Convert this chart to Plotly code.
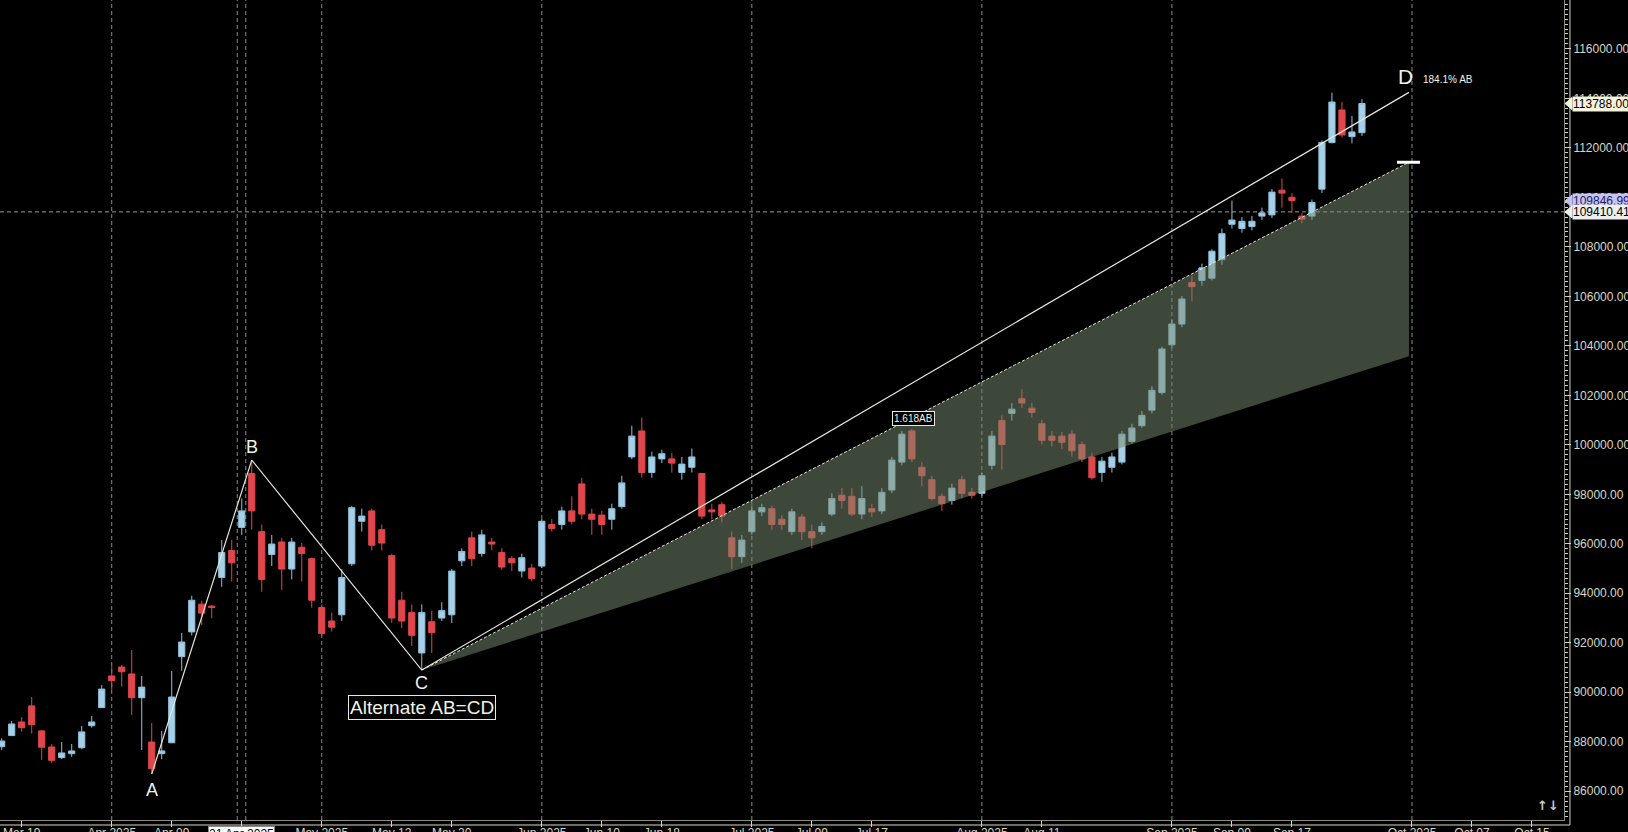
import plotly.graph_objects as go

# ---------------- data ----------------
opens = [87800, 88250, 88800, 89450, 88440, 87790, 87360, 87520, 87760, 88650,
         89380, 90660, 91020, 90740, 89780, 87990, 87520, 87960, 91440, 92440,
         93560, 93480, 94640, 95730, 96660, 98840, 96490, 95570, 96070, 94980,
         95860, 95400, 93430, 92880, 93130, 95190, 96910, 97330, 96570, 95520,
         93720, 93220, 91590, 92850, 93000, 93130, 95310, 96240, 95610, 96070,
         95650, 95400, 94900, 95020, 95100, 96780, 96780, 97330, 98420, 97200,
         97160, 96990, 97500, 99510, 100560, 98880, 99430, 99430, 98880, 99090,
         98840, 97370, 97580, 96240, 95480, 96490, 97290, 97420, 96990, 96490,
         97080, 96490, 96490, 97200, 97960, 97920, 97200, 97420, 97330, 98170,
         99300, 100560, 99090, 98590, 97920, 97750, 98590, 98080, 98040, 99170,
         100980, 101270, 101860, 101480, 100850, 100350, 100350, 100430, 100010, 99510,
         98880, 99090, 99300, 100140, 100770, 101400, 102110, 104040, 104880, 106560,
         106640, 106730, 107480, 108910, 108740, 108820, 109240, 109290, 110290, 110000,
         109240, 109240, 110330, 112210, 113530, 112450, 112610]
highs = [88140, 88840, 89000, 89810, 88480, 87910, 87990, 87910, 88640, 89040,
         90290, 91100, 91100, 91710, 90660, 88760, 88440, 90860, 92400, 93900,
         93700, 93520, 96150, 96150, 97830, 99380, 96780, 96360, 96240, 96240,
         96030, 95440, 93550, 93220, 94980, 97540, 97420, 97420, 96780, 95600,
         94060, 93550, 93550, 93300, 93640, 94980, 95820, 96490, 96570, 96240,
         95820, 95500, 95600, 95190, 97000, 97000, 97500, 97920, 98670, 97420,
         97330, 97620, 98750, 100770, 101100, 99720, 99800, 99680, 99510, 99850,
         98840, 97620, 97700, 96490, 96360, 97540, 97620, 97540, 97160, 97420,
         97200, 96780, 96870, 98040, 98250, 98250, 98330, 97620, 98250, 99510,
         100560, 100640, 99300, 98750, 98040, 98420, 98750, 98250, 98880, 100560,
         101190, 101690, 102240, 101690, 101020, 100560, 100520, 100600, 100140, 99680,
         99510, 99680, 100560, 100850, 101360, 102370, 103960, 105050, 106010, 106810,
         107320, 107900, 108740, 109870, 109200, 109250, 109580, 110330, 110760, 110170,
         109370, 109910, 112300, 114230, 113850, 113290, 113970]
lows = [87670, 88240, 88410, 88330, 87270, 87140, 87300, 87390, 87700, 88570,
        89380, 90100, 90230, 89080, 87670, 86700, 87300, 87960, 90870, 92300,
        92720, 92990, 94260, 94480, 96360, 96570, 94060, 95100, 94140, 94560,
        94480, 93420, 92300, 92460, 92880, 95100, 96490, 95730, 95730, 92800,
        92590, 91870, 90900, 91590, 92880, 92800, 95100, 95100, 95480, 95730,
        94940, 94900, 94640, 94480, 95020, 96490, 96570, 96780, 96990, 96360,
        96360, 96570, 97420, 99420, 98670, 98670, 99260, 98880, 98590, 98880,
        96990, 96990, 96870, 94980, 95230, 96360, 97120, 96570, 96570, 96360,
        96150, 95820, 96360, 97120, 97420, 97120, 96990, 97080, 97200, 98040,
        99170, 99300, 98330, 97750, 97330, 97580, 97830, 97830, 97920, 99000,
        99000, 100980, 101480, 101100, 100010, 99930, 99840, 99510, 99300, 98590,
        98500, 98880, 99210, 100060, 100690, 101270, 102030, 103920, 104750, 105800,
        106430, 106640, 107270, 108740, 108570, 108660, 109080, 109160, 109580, 109370,
        108950, 109080, 110170, 112180, 112420, 112180, 112480]
closes = [88030, 88720, 88570, 88690, 87780, 87250, 87550, 87630, 88400, 88800,
          90130, 90470, 90830, 89780, 90210, 86910, 87630, 89810, 92030, 93720,
          93200, 93430, 95650, 95230, 97330, 97330, 94560, 95990, 94980, 96070,
          95610, 93720, 92380, 92630, 94640, 97460, 97120, 95940, 96030, 93000,
          92880, 92300, 93220, 92410, 93300, 94900, 95690, 95400, 96360, 95990,
          95060, 95230, 95440, 94600, 96910, 96620, 97330, 96910, 97200, 96990,
          96780, 97420, 98460, 100350, 98880, 99510, 99640, 99260, 99220, 99510,
          97120, 97290, 97120, 95480, 96150, 97330, 97460, 96780, 96780, 97290,
          96490, 96240, 96700, 97830, 97750, 97200, 97830, 97290, 98080, 99380,
          100430, 99430, 98750, 97830, 97620, 98250, 98040, 97960, 98750, 100350,
          100010, 101440, 101690, 101310, 100180, 100180, 100100, 99760, 99430, 98670,
          99340, 99510, 100430, 100680, 101190, 102200, 103870, 104880, 105890, 106390,
          107150, 107820, 108530, 109080, 109030, 109030, 109370, 110210, 110170, 109870,
          109120, 109790, 112220, 113850, 112520, 112640, 113790]
bar_index = list(range(len(closes)))

# pattern points A, B, C, D  (bar index, price)
pattern_labels = ["A", "B", "C", "D"]
pattern_x = [15, 25, 42, 140.7]
pattern_y = [86700, 99380, 90900, 114240]
# projection zone (100% AB and 161.8% AB from C)
zone_end_x = 140.7
zone_100 = 103580
zone_1618 = 111416

tick_pos = [2, 11, 17, 24, 32, 39, 45, 54, 60, 66, 75, 81, 87, 98, 104,
            117, 123, 129, 141, 147, 153]
tick_text = ["Mar 19", "Apr 2025", "Apr 09", "Apr 21", "May 2025", "May 12",
             "May 20", "Jun 2025", "Jun 10", "Jun 18", "Jul 2025", "Jul 09",
             "Jul 17", "Aug 2025", "Aug 11", "Sep 2025", "Sep 09", "Sep 17",
             "Oct 2025", "Oct 07", "Oct 15"]
grid_pos = [11, 23.55, 24.4, 32, 54, 75, 98, 117, 141]

last_price = 113788.00
ref_price = 109846.99
cross_price = 109410.41

# ---------------- figure ----------------
FONT = "Liberation Sans, Arial, sans-serif"
AXC = "#d8d8c0"
BLUE = "#a7cfe5"
BLUE_L = "#8fc2de"
RED = "#e0474c"

fig = go.Figure()

fig.add_trace(go.Candlestick(
    x=bar_index, open=opens, high=highs, low=lows, close=closes,
    increasing=dict(line=dict(color=BLUE_L, width=1), fillcolor=BLUE),
    decreasing=dict(line=dict(color=RED, width=1), fillcolor=RED),
    whiskerwidth=0, hoverinfo="skip", showlegend=False,
))

# projection zone (drawn above the candles, translucent)
fig.add_trace(go.Scatter(
    x=[pattern_x[2], zone_end_x, zone_end_x, pattern_x[2]],
    y=[pattern_y[2], zone_1618, zone_100, pattern_y[2]],
    mode="lines", fill="toself", fillcolor="rgba(118,138,112,0.52)",
    line=dict(width=0), hoverinfo="skip", showlegend=False,
))
# 1.618 AB dashed edge
fig.add_trace(go.Scatter(
    x=[pattern_x[2], zone_end_x], y=[pattern_y[2], zone_1618],
    mode="lines", line=dict(color="#e8e8dc", width=1, dash="3px,2px"),
    hoverinfo="skip", showlegend=False,
))
# A-B-C-D legs
fig.add_trace(go.Scatter(
    x=pattern_x, y=pattern_y, mode="lines",
    line=dict(color="#e6e6da", width=1.2),
    hoverinfo="skip", showlegend=False,
))

shapes = []
for g in grid_pos:
    shapes.append(dict(type="line", xref="x", yref="paper", x0=g, x1=g, y0=0, y1=1,
                       line=dict(color="#8a8a8a", width=1, dash="4px,3px"), layer="below"))
# crosshair horizontal
shapes.append(dict(type="line", xref="paper", yref="y", x0=0, x1=1,
                   y0=cross_price, y1=cross_price,
                   line=dict(color="#9a9a9a", width=1, dash="4px,3px"), layer="below"))
# target marker
shapes.append(dict(type="line", xref="x", yref="y", x0=139.5, x1=141.8,
                   y0=zone_1618, y1=zone_1618, line=dict(color="white", width=3)))
# double frame lines (right / bottom)
shapes.append(dict(type="line", xref="paper", yref="paper", x0=1.0038, x1=1.0038,
                   y0=-0.0061, y1=1, line=dict(color=AXC, width=1)))
shapes.append(dict(type="line", xref="paper", yref="paper", x0=0, x1=1.0038,
                   y0=-0.0061, y1=-0.0061, line=dict(color=AXC, width=1)))
# price label pointers
for p, col in [(last_price, "#f4f4dc"), (ref_price, "#c4c4f4"), (cross_price, "#eeeeee")]:
    shapes.append(dict(type="path", xref="paper", yref="y", xsizemode="pixel",
                       ysizemode="pixel", xanchor=1, yanchor=p,
                       path="M 1 0 L 8 6 L 8 -6 Z", fillcolor=col,
                       line=dict(color=col, width=1)))

ann = []
txt_col = "#f2f2e6"
ann.append(dict(x=pattern_x[0], y=pattern_y[0], text="A", showarrow=False,
                yanchor="top", yshift=-4, font=dict(family=FONT, size=18, color=txt_col)))
ann.append(dict(x=pattern_x[1], y=pattern_y[1], text="B", showarrow=False,
                yanchor="bottom", yshift=1, font=dict(family=FONT, size=18, color=txt_col)))
ann.append(dict(x=pattern_x[2], y=pattern_y[2], text="C", showarrow=False,
                yanchor="top", yshift=-1, font=dict(family=FONT, size=18, color=txt_col)))
ann.append(dict(x=pattern_x[3], y=pattern_y[3], text="D", showarrow=False,
                yanchor="bottom", xanchor="center", yshift=2, xshift=-3,
                font=dict(family=FONT, size=21, color=txt_col)))
ann.append(dict(x=pattern_x[3], y=pattern_y[3], text="184.1% AB", showarrow=False,
                xanchor="left", yanchor="bottom", xshift=12, yshift=5,
                font=dict(family=FONT, size=10, color=txt_col)))
ann.append(dict(x=pattern_x[2], y=pattern_y[2], text="Alternate AB=CD", showarrow=False,
                yanchor="top", yshift=-25, bordercolor="#e8e8dc", borderwidth=1, borderpad=1,
                bgcolor="black", font=dict(family=FONT, size=19, color=txt_col)))
ann.append(dict(x=91.2, y=101080, text="1.618AB", showarrow=False,
                bordercolor="#e8e8dc", borderwidth=1, borderpad=1, bgcolor="black",
                font=dict(family=FONT, size=10, color=txt_col)))
# top partial tick label
ann.append(dict(xref="paper", x=1, xanchor="left", xshift=8, y=118000, yref="y",
                text="118000.00", showarrow=False, font=dict(family=FONT, size=12, color=AXC)))
# right price labels
for p, txt, bg, fc in [(last_price, "113788.00", "#f4f4dc", "black"),
                       (ref_price, "109846.99", "#c4c4f4", "#202060"),
                       (cross_price, "109410.41", "#eeeeee", "black")]:
    ann.append(dict(xref="paper", x=1, xanchor="left", xshift=8, y=p, yref="y",
                    text=txt, showarrow=False, bgcolor=bg, borderpad=0,
                    font=dict(family=FONT, size=12, color=fc)))
# crosshair date label
ann.append(dict(x=24, xref="x", y=-0.0098, yref="paper", yanchor="top", yshift=2,
                text="21 Apr 2025", showarrow=False, bgcolor="white",
                bordercolor="#888888", borderwidth=1, borderpad=0,
                font=dict(family=FONT, size=12, color="black")))
# scroll arrows
ann.append(dict(xref="paper", yref="paper", x=0.9896, y=0.0061, xanchor="center",
                yanchor="bottom", text="<b>↑↓</b>", showarrow=False,
                font=dict(family="DejaVu Sans", size=13, color="#c8c8c8")))

fig.update_layout(
    width=1628, height=832,
    margin=dict(l=0, r=64, t=0, b=12, autoexpand=False),
    paper_bgcolor="black", plot_bgcolor="black",
    showlegend=False, boxgap=0.12,
    shapes=shapes, annotations=ann,
    xaxis=dict(range=[-0.17, 156.2], rangeslider=dict(visible=False),
               tickmode="array", tickvals=tick_pos, ticktext=tick_text,
               showgrid=False, zeroline=False, showline=True, linecolor="#8a8a80",
               ticks="outside", ticklen=6, tickcolor=AXC, automargin=False,
               ticklabelstandoff=-4,
               tickfont=dict(family=FONT, size=12, color=AXC), fixedrange=True),
    yaxis=dict(range=[84840, 117972], side="right", showgrid=False, zeroline=False,
               showline=True, linecolor="#8a8a80", dtick=2000, tick0=0,
               tickformat=".2f", ticks="outside", ticklen=6, tickcolor=AXC,
               automargin=False,
               minor=dict(dtick=200, ticks="outside", ticklen=3, tickcolor=AXC),
               tickfont=dict(family=FONT, size=12, color=AXC), fixedrange=True),
)

fig.write_html("out.html", config={"displayModeBar": False},
               post_script="document.body.style.margin='0';"
                           "document.body.style.background='black';"
                           "document.documentElement.style.overflow='hidden';")
